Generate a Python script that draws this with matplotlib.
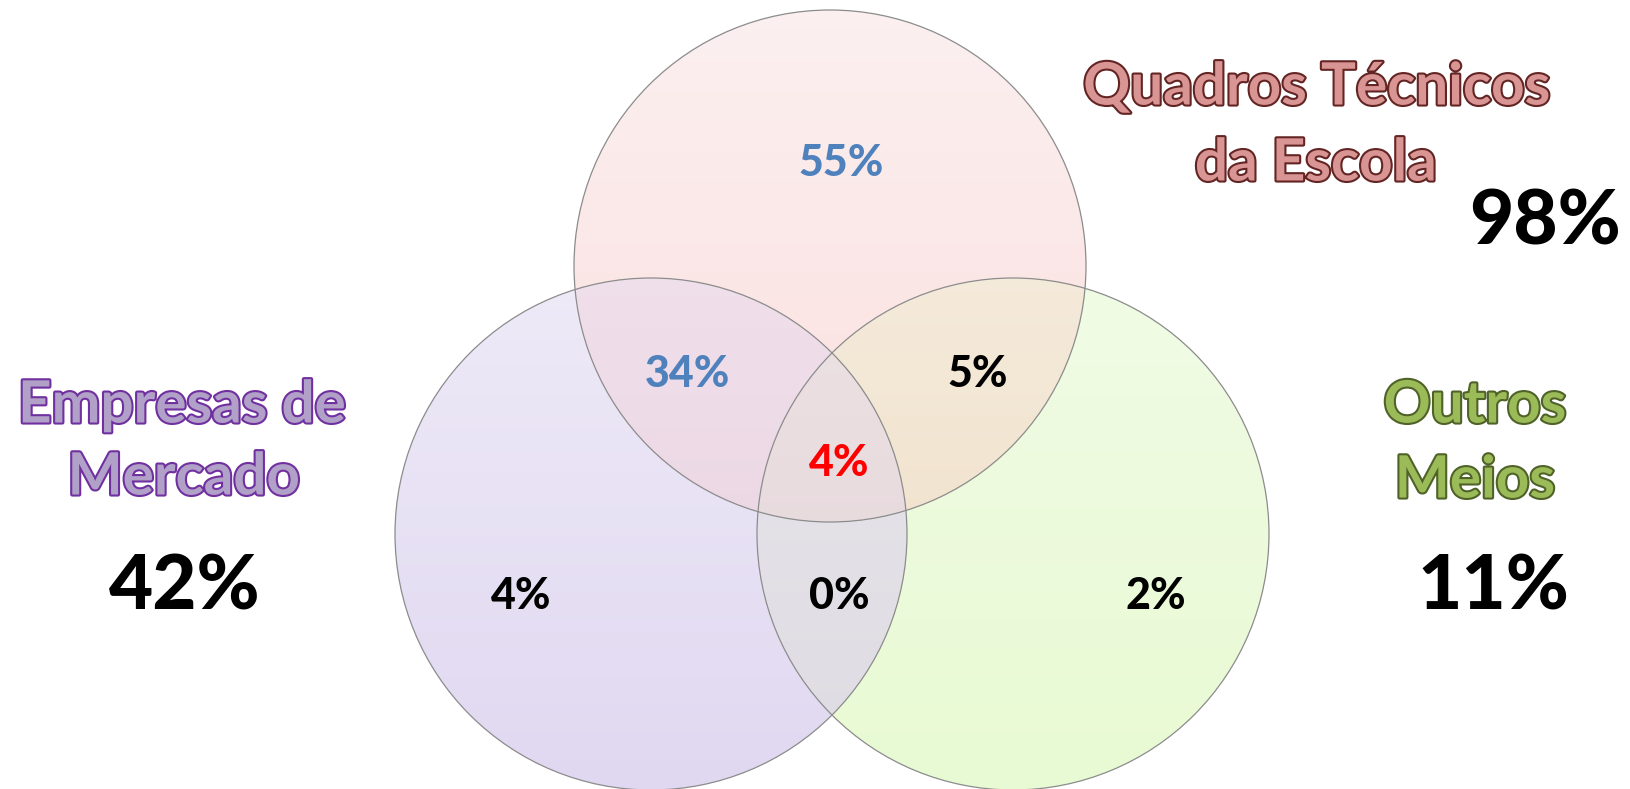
import numpy as np
import matplotlib.pyplot as plt
import matplotlib.patheffects as pe
from matplotlib.patches import Circle

# dados
set_names = [["Quadros Técnicos", "da Escola"], ["Empresas de", "Mercado"], ["Outros", "Meios"]]
set_totals = ["98%", "42%", "11%"]
region_names = ["so_escola", "escola_empresas", "escola_outros", "todos", "so_empresas", "empresas_outros", "so_outros"]
region_values = ["55%", "34%", "5%", "4%", "4%", "0%", "2%"]

# layout (pixels)
W, H = 1631, 789
R = 256
centers = [(830, 266), (651, 534), (1013, 534)]
name_pos = [[(1317, 88), (1316, 164)], [(182, 406), (184, 478)], [(1475, 406), (1475, 481)]]
total_pos = [(1545, 222), (185, 588), (1493, 588)]
region_pos = [(841, 163), (687, 374), (978, 374), (839, 463), (521, 596), (839, 596), (1156, 596)]
region_colors = ["#4F81BD", "#4F81BD", "black", "red", "black", "black", "black"]
name_fill = ["#D99594", "#B1A0C7", "#9BBB59"]
name_edge = ["#632523", "#7030A0", "#4F6228"]

# cores das regioes (topo, base) indexadas por codigo t*1 + l*2 + r*4
grad = {
    0: ("#FFFFFF", "#FFFFFF"),
    1: ("#FCF0F0", "#FBD6D6"),
    2: ("#F6F4FB", "#E0D8F1"),
    4: ("#F6FCEF", "#E8FAD3"),
    3: ("#F4E8F2", "#E8D0DE"),
    5: ("#F8F2E8", "#EEDCC2"),
    7: ("#F0E8E8", "#E5D5DA"),
    6: ("#EEECF1", "#DEDCE2"),
}


def hex2rgb(h):
    h = h.lstrip("#")
    return np.array([int(h[i:i + 2], 16) for i in (0, 2, 4)]) / 255.0


yy, xx = np.mgrid[0:H, 0:W] + 0.5
code = np.zeros((H, W), dtype=int)
for k, (cx, cy) in enumerate(centers):
    code += ((xx - cx) ** 2 + (yy - cy) ** 2 <= R ** 2).astype(int) * (1 << k)

t = (yy / H)[..., None]
img = np.ones((H, W, 3))
for c, (top, bot) in grad.items():
    m = code == c
    col = hex2rgb(top) * (1 - t) + hex2rgb(bot) * t
    img[m] = col[m]

fig = plt.figure(figsize=(16.31, 7.89), dpi=100)
ax = fig.add_axes([0, 0, 1, 1])
ax.imshow(img, extent=(0, W, H, 0), interpolation="bilinear")
ax.set_xlim(0, W)
ax.set_ylim(H, 0)
ax.axis("off")

for cx, cy in centers:
    ax.add_patch(Circle((cx, cy), R, fill=False, ec="#8C8C8C", lw=0.9))

font = "Lato"
for i in range(3):
    for line, (x, y) in zip(set_names[i], name_pos[i]):
        ax.text(x, y, line, ha="center", va="center", fontsize=42, fontweight="bold",
                family=font, color=name_fill[i],
                path_effects=[pe.withStroke(linewidth=3, foreground=name_edge[i])])
    ax.text(total_pos[i][0], total_pos[i][1], set_totals[i], ha="center", va="center",
            fontsize=55, fontweight="black", family=font, color="black")

for val, (x, y), c in zip(region_values, region_pos, region_colors):
    ax.text(x, y, val, ha="center", va="center", fontsize=31, fontweight="black",
            family=font, color=c)

plt.savefig("out.png", dpi=100)
